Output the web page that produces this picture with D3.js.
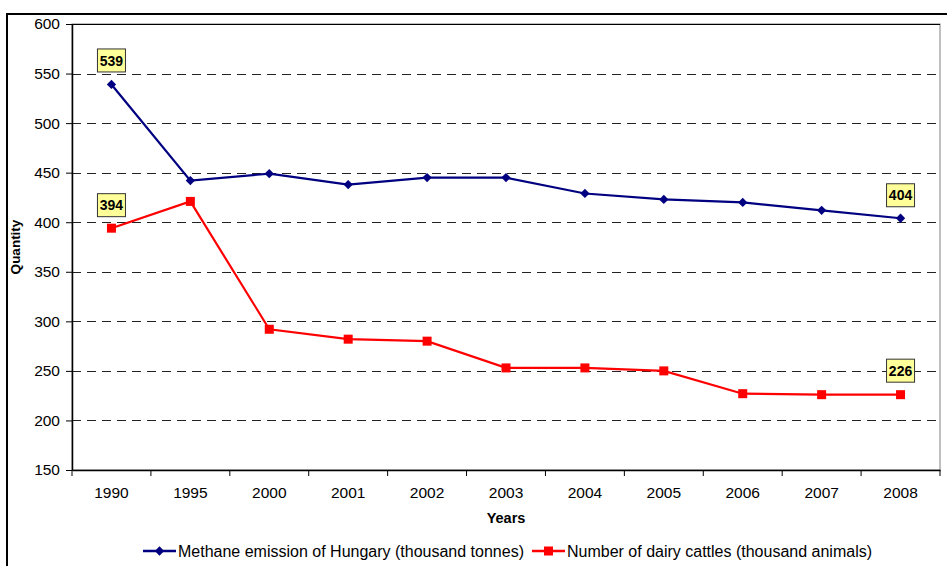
<!DOCTYPE html>
<html><head><meta charset="utf-8">
<script src="https://cdn.jsdelivr.net/npm/d3@7"></script>
<style>body{margin:0;background:#fff}svg{display:block;font-family:"Liberation Sans",Arial,sans-serif}</style>
</head><body>
<svg id="c" width="947" height="566"></svg>
<script>
const years = ["1990","1995","2000","2001","2002","2003","2004","2005","2006","2007","2008"];
const methane = [539,442,449,438,445,445,429,423,420,412,404];
const cattle = [394,421,292,282,280,253,253,250,227,226,226];
const yTicks = [150,200,250,300,350,400,450,500,550,600];
const seriesNames = ["Methane emission of Hungary (thousand tonnes)","Number of dairy cattles (thousand animals)"];

const svg = d3.select("#c");
const L=72, R=940, T=24, B=470;
// outer frame
svg.append("rect").attr("x",7).attr("y",14).attr("width",960).attr("height",580).attr("fill","#fff").attr("stroke","#000").attr("stroke-width",2);

const x = d3.scaleBand().domain(years).range([L,R]);
const y = d3.scaleLinear().domain([150,600]).range([B,T]);

// plot border
svg.append("rect").attr("x",L).attr("y",T).attr("width",R-L).attr("height",B-T).attr("fill","none").attr("stroke","#808080").attr("stroke-width",1);

// gridlines
svg.append("g").selectAll("line").data(yTicks.filter(d=>d>150&&d<600)).join("line")
  .attr("x1",L).attr("x2",R).attr("y1",d=>Math.round(y(d))+0.5).attr("y2",d=>Math.round(y(d))+0.5)
  .attr("stroke","#222").attr("stroke-dasharray","9,6").attr("stroke-width",1.2);
svg.append("line").attr("x1",L).attr("x2",R).attr("y1",T+0.5).attr("y2",T+0.5).attr("stroke","#000");

// axes
const ya = svg.append("g").attr("transform",`translate(${L},0)`).call(d3.axisLeft(y).tickValues(yTicks).tickSize(6).tickSizeOuter(0));
ya.select(".domain").attr("stroke","#000").attr("stroke-width",1.5);
ya.selectAll("text").attr("font-size",15.5).attr("font-family","Liberation Sans, Arial, sans-serif").attr("fill","#000").attr("dx",-3);
const xa = svg.append("g").attr("transform",`translate(0,${B})`).call(d3.axisBottom(x).tickSize(0));
xa.select(".domain").attr("stroke","#000").attr("stroke-width",1.5);
xa.selectAll("text").attr("font-size",15.5).attr("font-family","Liberation Sans, Arial, sans-serif").attr("fill","#000").attr("y",17).attr("dy","0.71em");
// x ticks at band boundaries
xa.selectAll(".bt").data(years.concat(["end"])).join("line").attr("class","bt")
  .attr("x1",(d,i)=>L+i*x.step()).attr("x2",(d,i)=>L+i*x.step()).attr("y1",0).attr("y2",6).attr("stroke","#000");

// axis titles
svg.append("text").attr("x",(L+R)/2).attr("y",523).attr("text-anchor","middle").attr("font-weight","bold").attr("font-size",14.5).text("Years");
svg.append("text").attr("transform",`translate(20,${(T+B)/2}) rotate(-90)`).attr("text-anchor","middle").attr("font-weight","bold").attr("font-size",13.5).text("Quantity");

const cx = d=>x(d)+x.bandwidth()/2;
const line = d3.line().x((d,i)=>cx(years[i])).y(d=>y(d));
svg.append("path").datum(methane).attr("d",line).attr("fill","none").attr("stroke","#000080").attr("stroke-width",2.2);
svg.append("path").datum(cattle).attr("d",line).attr("fill","none").attr("stroke","#FF0000").attr("stroke-width",2.2);
const diamond = d3.symbol().type(d3.symbolDiamond2).size(55);
svg.append("g").selectAll("path").data(methane).join("path")
  .attr("d",diamond).attr("transform",(d,i)=>`translate(${cx(years[i])},${y(d)})`).attr("fill","#000080");
svg.append("g").selectAll("rect").data(cattle).join("rect")
  .attr("x",(d,i)=>cx(years[i])-4.5).attr("y",d=>y(d)-4.5).attr("width",9).attr("height",9).attr("fill","#FF0000");

// data labels
function label(i, v, dy){
  const g = svg.append("g").attr("transform",`translate(${cx(years[i])},${y(v)+dy})`);
  g.append("rect").attr("x",-14).attr("y",-11.5).attr("width",28).attr("height",23).attr("fill","#FFFF99").attr("stroke","#333").attr("stroke-width",1);
  g.append("text").attr("text-anchor","middle").attr("dy","0.36em").attr("font-weight","bold").attr("font-size",14).text(v);
}
label(0, methane[0], -24);
label(0, cattle[0], -23);
label(10, methane[10], -23);
label(10, cattle[10], -24);

// legend
const lg = svg.append("g").attr("transform","translate(0,551)");
let lx = 143;
[["#000080","d"],["#FF0000","s"]].forEach((s,k)=>{
  lg.append("line").attr("x1",lx).attr("x2",lx+33).attr("y1",0).attr("y2",0).attr("stroke",s[0]).attr("stroke-width",2.5);
  if(s[1]==="d") lg.append("path").attr("d",diamond).attr("transform",`translate(${lx+16.5},0)`).attr("fill",s[0]);
  else lg.append("rect").attr("x",lx+12).attr("y",-4.5).attr("width",9).attr("height",9).attr("fill",s[0]);
  const t = lg.append("text").attr("x",lx+35).attr("dy","0.35em").attr("font-size",16).text(seriesNames[k]);
  lx = lx+35+t.node().getComputedTextLength()+8;
});
</script>
</body></html>
